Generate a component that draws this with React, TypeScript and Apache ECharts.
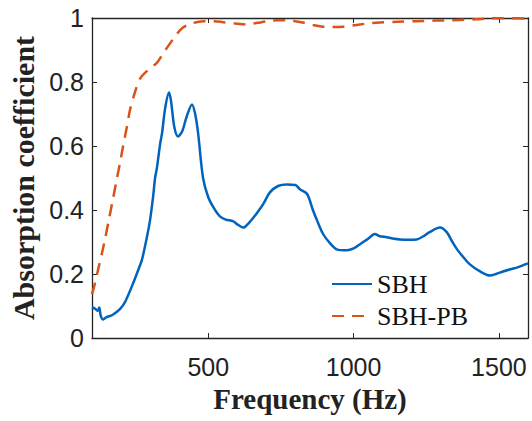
import React, { useEffect, useRef } from "react";
import * as echarts from "echarts";

const sbhFreq = [100, 110, 120, 125, 130, 138, 150, 170, 196, 215, 241, 260, 272, 290, 300, 310, 317, 323, 335, 341, 352, 365, 372, 383, 396, 410, 425, 444, 455, 465, 482, 500, 520, 540, 560, 585, 600, 620, 640, 667, 690, 712, 740, 770, 800, 815, 840, 860, 873, 895, 920, 942, 977, 1000, 1022, 1050, 1073, 1090, 1114, 1140, 1160, 1190, 1217, 1240, 1260, 1297, 1321, 1340, 1356, 1380, 1400, 1435, 1469, 1490, 1514, 1540, 1561, 1580, 1600];
const sbhValues = [0.096, 0.092, 0.085, 0.095, 0.07, 0.058, 0.065, 0.072, 0.09, 0.115, 0.17, 0.215, 0.245, 0.32, 0.37, 0.44, 0.5, 0.53, 0.61, 0.64, 0.72, 0.767, 0.74, 0.66, 0.63, 0.645, 0.69, 0.73, 0.7, 0.64, 0.5, 0.44, 0.405, 0.38, 0.37, 0.365, 0.355, 0.345, 0.36, 0.39, 0.42, 0.455, 0.475, 0.48, 0.478, 0.465, 0.45, 0.4, 0.37, 0.325, 0.295, 0.277, 0.274, 0.28, 0.293, 0.31, 0.325, 0.318, 0.315, 0.31, 0.308, 0.307, 0.308, 0.318, 0.33, 0.345, 0.33, 0.3, 0.277, 0.25, 0.23, 0.208, 0.195, 0.2, 0.208, 0.215, 0.22, 0.226, 0.233];

const pbFreq = [100, 110, 121, 133, 145, 157, 169, 186, 197, 207, 220, 231, 245, 265, 290, 323, 345, 368, 390, 413, 440, 482, 520, 551, 600, 633, 670, 702, 740, 770, 800, 826, 860, 895, 930, 964, 1000, 1022, 1060, 1091, 1150, 1217, 1280, 1342, 1420, 1480, 1530, 1561, 1600];
const pbValues = [0.137, 0.17, 0.214, 0.26, 0.31, 0.365, 0.42, 0.5, 0.55, 0.6, 0.66, 0.714, 0.76, 0.81, 0.835, 0.86, 0.89, 0.92, 0.948, 0.97, 0.982, 0.99, 0.99, 0.987, 0.982, 0.98, 0.985, 0.99, 0.993, 0.993, 0.99, 0.986, 0.978, 0.973, 0.972, 0.973, 0.977, 0.98, 0.984, 0.986, 0.988, 0.99, 0.992, 0.993, 0.996, 0.999, 0.999, 0.999, 0.998];

const xTicks = [500, 1000, 1500];
const seriesNames = ["SBH", "SBH-PB"];

export default function App() {
  const ref = useRef<HTMLDivElement>(null);
  useEffect(() => {
    if (!ref.current) return;
    const chart = echarts.init(ref.current, undefined, { renderer: "svg" });
    const axisColor = "#262626";
    const sansFont = "'Liberation Sans', Arial, sans-serif";
    const serifFont = "'Liberation Serif', 'Times New Roman', serif";
    const baseX = {
      type: "value" as const,
      min: 100,
      max: 1600,
      axisLine: { show: true, onZero: false, lineStyle: { color: axisColor, width: 1.3 } },
      splitLine: { show: false },
    };
    const baseY = {
      type: "value" as const,
      min: 0,
      max: 1,
      interval: 0.2,
      axisLine: { show: true, onZero: false, lineStyle: { color: axisColor, width: 1.3 } },
      splitLine: { show: false },
    };
    chart.setOption({
      animation: false,
      backgroundColor: "#ffffff",
      grid: { left: 92, right: 4, top: 18, bottom: 83 },
      legend: {
        orient: "vertical",
        left: 326,
        top: 266,
        itemWidth: 40,
        itemHeight: 14,
        itemGap: 6,
        data: seriesNames,
        itemStyle: { opacity: 0 },
        textStyle: { fontFamily: serifFont, fontSize: 26, color: "#111" },
      },
      xAxis: [
        {
          ...baseX,
          position: "bottom",
          name: "Frequency (Hz)",
          nameLocation: "middle",
          nameGap: 46,
          nameTextStyle: { fontFamily: serifFont, fontSize: 29, fontWeight: "bold", color: "#222" },
          axisTick: { show: true, inside: true, length: 5, customValues: xTicks, lineStyle: { color: axisColor } },
          axisLabel: {
            customValues: xTicks,
            formatter: (v: number) => String(v),
            fontFamily: sansFont,
            fontSize: 25,
            color: "#222",
            margin: 16,
          },
        },
        {
          ...baseX,
          position: "top",
          axisTick: { show: true, inside: true, length: 5, customValues: xTicks, lineStyle: { color: axisColor } },
          axisLabel: { show: false },
        },
      ],
      yAxis: [
        {
          ...baseY,
          position: "left",
          name: "Absorption coefficient",
          nameLocation: "middle",
          nameGap: 53,
          nameTextStyle: { fontFamily: serifFont, fontSize: 30, fontWeight: "bold", color: "#222" },
          axisTick: { show: true, inside: true, length: 5, lineStyle: { color: axisColor } },
          axisLabel: { fontFamily: sansFont, fontSize: 25, color: "#222", margin: 8 },
        },
        {
          ...baseY,
          position: "right",
          axisTick: { show: true, inside: true, length: 5, lineStyle: { color: axisColor } },
          axisLabel: { show: false },
        },
      ],
      series: [
        {
          name: seriesNames[0],
          type: "line",
          showSymbol: false,
          symbol: "none",
          smooth: 0.3,
          data: sbhFreq.map((f, i) => [f, sbhValues[i]]),
          lineStyle: { color: "#0063BE", width: 2.5 },
          itemStyle: { color: "#0063BE" },
        },
        {
          name: seriesNames[1],
          type: "line",
          showSymbol: false,
          symbol: "none",
          smooth: 0.3,
          data: pbFreq.map((f, i) => [f, pbValues[i]]),
          lineStyle: { color: "#D95319", width: 2.5, type: [12, 8] },
          itemStyle: { color: "#D95319" },
        },
      ],
    });
    return () => chart.dispose();
  }, []);
  return <div ref={ref} style={{ position: "fixed", left: 0, top: 0, width: 532, height: 421 }} />;
}
